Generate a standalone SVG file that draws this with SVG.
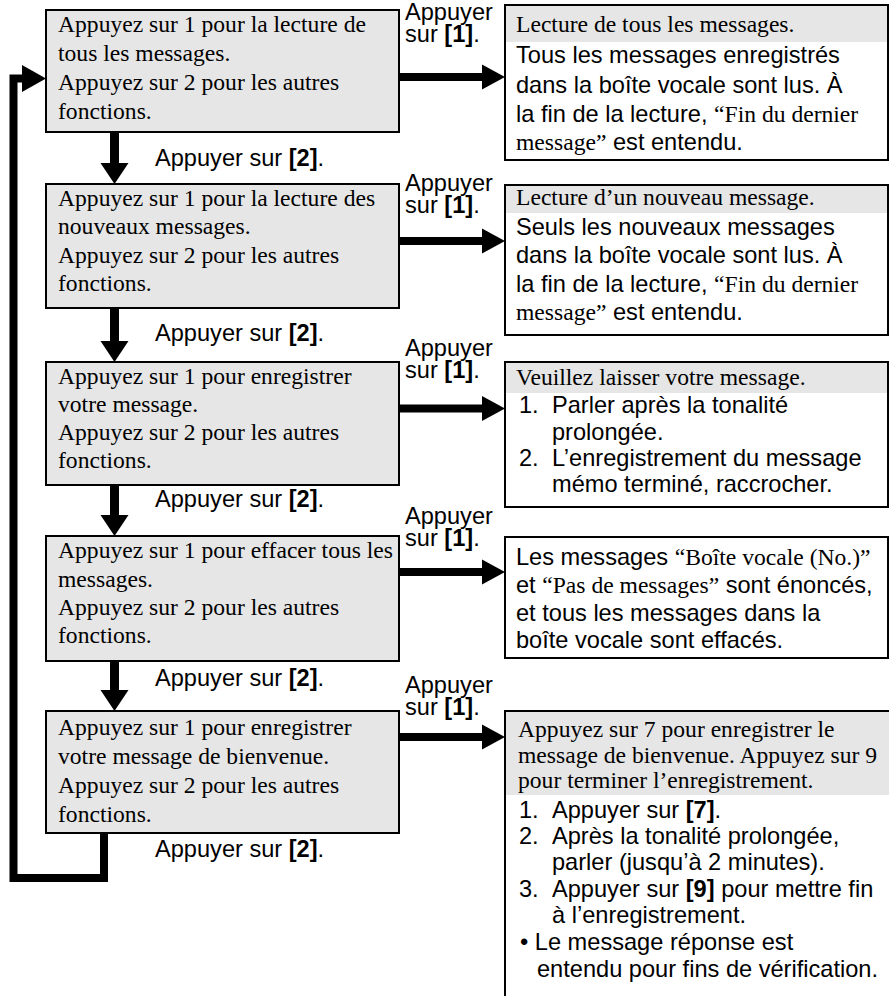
<svg xmlns="http://www.w3.org/2000/svg" width="889" height="996" viewBox="0 0 889 996">
<style>
  .bg { fill: #ffffff; }
  .lbox { fill: #e6e6e6; stroke: #000; stroke-width: 2; }
  .rbox { fill: #ffffff; stroke: #000; stroke-width: 2; }
  .band { fill: #e6e6e6; }
  .edge { fill: none; stroke: #000; stroke-width: 2; }
  .serif { font-family: "Liberation Serif", "Times New Roman", serif; font-size: 23.6px; fill: #000; }
  .sans { font-family: "Liberation Sans", Arial, sans-serif; font-size: 23.6px; fill: #000; }
  .s { font-family: "Liberation Serif", "Times New Roman", serif; }
  .b { font-weight: bold; }
  .conn { fill: none; stroke: #000; }
  .head { fill: #000; }
</style>
<rect class="bg" x="0" y="0" width="889" height="996"/>

<g id="connectors">
  <!-- down arrows -->
  <line class="conn" x1="114.5" y1="132" x2="114.5" y2="164" stroke-width="9"/>
  <polygon class="head" points="100.5,163 128.5,163 114.5,184"/>
  <line class="conn" x1="114.5" y1="308" x2="114.5" y2="342" stroke-width="9"/>
  <polygon class="head" points="100.5,341 128.5,341 114.5,362"/>
  <line class="conn" x1="114.5" y1="485" x2="114.5" y2="516" stroke-width="9"/>
  <polygon class="head" points="100.5,515 128.5,515 114.5,536"/>
  <line class="conn" x1="114.5" y1="661" x2="114.5" y2="691" stroke-width="9"/>
  <polygon class="head" points="100.5,690 128.5,690 114.5,711"/>
  <!-- loop back -->
  <path class="conn" d="M104,833 V878 H13.5 V78.5 H24" stroke-width="8" stroke-linejoin="miter"/>
  <polygon class="head" points="22,65 46,78.5 22,92"/>
  <!-- right arrows -->
  <line class="conn" x1="400" y1="77" x2="483" y2="77" stroke-width="8"/>
  <polygon class="head" points="482,64.5 505,77 482,89.5"/>
  <line class="conn" x1="400" y1="241" x2="483" y2="241" stroke-width="8"/>
  <polygon class="head" points="482,228.5 505,241 482,253.5"/>
  <line class="conn" x1="400" y1="408.5" x2="483" y2="408.5" stroke-width="8"/>
  <polygon class="head" points="482,396 505,408.5 482,421"/>
  <line class="conn" x1="400" y1="572" x2="483" y2="572" stroke-width="8"/>
  <polygon class="head" points="482,559.5 505,572 482,584.5"/>
  <line class="conn" x1="400" y1="737" x2="483" y2="737" stroke-width="8"/>
  <polygon class="head" points="482,724.5 505,737 482,749.5"/>
  <!-- labels -->
  <text class="sans" x="405" y="20">Appuyer<tspan x="405" dy="21.5">sur </tspan><tspan class="b">[1]</tspan>.</text>
  <text class="sans" x="405" y="191">Appuyer<tspan x="405" dy="21.5">sur </tspan><tspan class="b">[1]</tspan>.</text>
  <text class="sans" x="405" y="356">Appuyer<tspan x="405" dy="22">sur </tspan><tspan class="b">[1]</tspan>.</text>
  <text class="sans" x="405" y="524">Appuyer<tspan x="405" dy="22">sur </tspan><tspan class="b">[1]</tspan>.</text>
  <text class="sans" x="405" y="693">Appuyer<tspan x="405" dy="22">sur </tspan><tspan class="b">[1]</tspan>.</text>
  <text class="sans" x="155" y="166">Appuyer sur <tspan class="b">[2]</tspan>.</text>
  <text class="sans" x="155" y="341">Appuyer sur <tspan class="b">[2]</tspan>.</text>
  <text class="sans" x="155" y="507">Appuyer sur <tspan class="b">[2]</tspan>.</text>
  <text class="sans" x="155" y="686">Appuyer sur <tspan class="b">[2]</tspan>.</text>
  <text class="sans" x="155" y="857">Appuyer sur <tspan class="b">[2]</tspan>.</text>
</g>

<g id="menu1">
  <rect class="lbox" x="46" y="10" width="353" height="122"/>
  <text class="serif" x="58" y="32">Appuyez sur 1 pour la lecture de</text>
  <text class="serif" x="58" y="61">tous les messages.</text>
  <text class="serif" x="58" y="90">Appuyez sur 2 pour les autres</text>
  <text class="serif" x="58" y="119">fonctions.</text>
</g>
<g id="menu2">
  <rect class="lbox" x="46" y="184" width="353" height="124"/>
  <text class="serif" x="58" y="206">Appuyez sur 1 pour la lecture des</text>
  <text class="serif" x="58" y="234">nouveaux messages.</text>
  <text class="serif" x="58" y="263">Appuyez sur 2 pour les autres</text>
  <text class="serif" x="58" y="291">fonctions.</text>
</g>
<g id="menu3">
  <rect class="lbox" x="46" y="362" width="353" height="123"/>
  <text class="serif" x="58" y="384">Appuyez sur 1 pour enregistrer</text>
  <text class="serif" x="58" y="412">votre message.</text>
  <text class="serif" x="58" y="440">Appuyez sur 2 pour les autres</text>
  <text class="serif" x="58" y="468">fonctions.</text>
</g>
<g id="menu4">
  <rect class="lbox" x="46" y="536" width="353" height="125"/>
  <text class="serif" x="58" y="558">Appuyez sur 1 pour effacer tous les</text>
  <text class="serif" x="58" y="587">messages.</text>
  <text class="serif" x="58" y="615">Appuyez sur 2 pour les autres</text>
  <text class="serif" x="58" y="643">fonctions.</text>
</g>
<g id="menu5">
  <rect class="lbox" x="46" y="711" width="353" height="122"/>
  <text class="serif" x="58" y="735">Appuyez sur 1 pour enregistrer</text>
  <text class="serif" x="58" y="764">votre message de bienvenue.</text>
  <text class="serif" x="58" y="793">Appuyez sur 2 pour les autres</text>
  <text class="serif" x="58" y="822">fonctions.</text>
</g>

<g id="result1">
  <rect class="rbox" x="505" y="5" width="383" height="155"/>
  <rect class="band" x="506" y="6" width="381" height="36"/>
  <text class="serif" x="516" y="32">Lecture de tous les messages.</text>
  <text class="sans" x="516" y="63">Tous les messages enregistrés</text>
  <text class="sans" x="516" y="93">dans la boîte vocale sont lus. À</text>
  <text class="sans" x="516" y="122">la fin de la lecture, <tspan class="s">“Fin du dernier</tspan></text>
  <text class="sans" x="516" y="150"><tspan class="s">message”</tspan> est entendu.</text>
</g>
<g id="result2">
  <rect class="rbox" x="505" y="185" width="383" height="150"/>
  <rect class="band" x="506" y="186" width="381" height="27"/>
  <text class="serif" x="516" y="205">Lecture d’un nouveau message.</text>
  <text class="sans" x="516" y="235">Seuls les nouveaux messages</text>
  <text class="sans" x="516" y="263">dans la boîte vocale sont lus. À</text>
  <text class="sans" x="516" y="292">la fin de la lecture, <tspan class="s">“Fin du dernier</tspan></text>
  <text class="sans" x="516" y="320"><tspan class="s">message”</tspan> est entendu.</text>
</g>
<g id="result3">
  <rect class="rbox" x="505" y="362" width="383" height="145"/>
  <rect class="band" x="506" y="363" width="381" height="30"/>
  <text class="serif" x="516" y="385">Veuillez laisser votre message.</text>
  <text class="sans" x="519" y="413">1.</text>
  <text class="sans" x="552" y="413">Parler après la tonalité</text>
  <text class="sans" x="552" y="439.5">prolongée.</text>
  <text class="sans" x="519" y="466">2.</text>
  <text class="sans" x="552" y="466">L’enregistrement du message</text>
  <text class="sans" x="552" y="492">mémo terminé, raccrocher.</text>
</g>
<g id="result4">
  <rect class="rbox" x="505" y="537" width="383" height="121"/>
  <text class="sans" x="516" y="565">Les messages <tspan class="s">“Boîte vocale (No.)”</tspan></text>
  <text class="sans" x="516" y="593">et <tspan class="s">“Pas de messages”</tspan> sont énoncés,</text>
  <text class="sans" x="516" y="621">et tous les messages dans la</text>
  <text class="sans" x="516" y="648">boîte vocale sont effacés.</text>
</g>
<g id="result5">
  <rect class="band" x="506" y="712" width="383" height="83"/>
  <path class="edge" d="M505,996 V711 H889"/>
  <text class="serif" x="518" y="737">Appuyez sur 7 pour enregistrer le</text>
  <text class="serif" x="518" y="763">message de bienvenue. Appuyez sur 9</text>
  <text class="serif" x="518" y="788">pour terminer l’enregistrement.</text>
  <text class="sans" x="519" y="818">1.</text>
  <text class="sans" x="552" y="818">Appuyer sur <tspan class="b">[7]</tspan>.</text>
  <text class="sans" x="519" y="844">2.</text>
  <text class="sans" x="552" y="844">Après la tonalité prolongée,</text>
  <text class="sans" x="552" y="870">parler (jusqu’à 2 minutes).</text>
  <text class="sans" x="519" y="897">3.</text>
  <text class="sans" x="552" y="897">Appuyer sur <tspan class="b">[9]</tspan> pour mettre fin</text>
  <text class="sans" x="552" y="923">à l’enregistrement.</text>
  <text class="sans" x="520" y="950">• Le message réponse est</text>
  <text class="sans" x="537" y="977">entendu pour fins de vérification.</text>
</g>
</svg>
